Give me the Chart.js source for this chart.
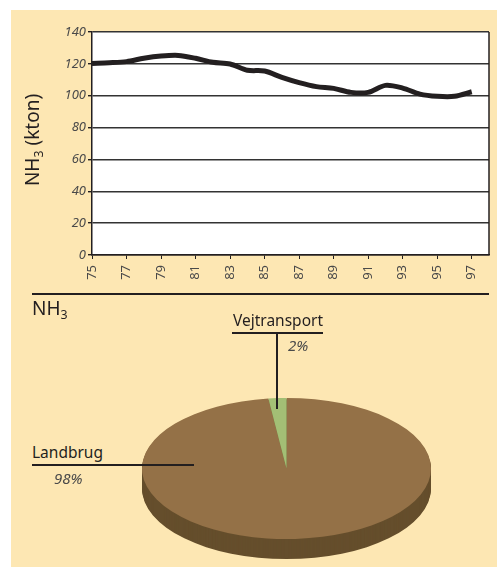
<!DOCTYPE html>
<html>
<head>
<meta charset="utf-8">
<script src="https://cdn.jsdelivr.net/npm/chart.js@4/dist/chart.umd.min.js"></script>
<style>
  body { margin: 0; background: #fff; width: 497px; height: 568px; overflow: hidden; position: relative; font-family: "Noto Sans", sans-serif; color: #231f20; }
  #panel { position: absolute; left: 11px; top: 10px; width: 486px; height: 557px; background: #fde7b3; }
  canvas { position: absolute; }
  .txt { position: absolute; white-space: nowrap; }
  .line { position: absolute; background: #231f20; }
  sub { font-size: 65%; vertical-align: -0.35em; }
</style>
</head>
<body>
<div id="panel"></div>
<canvas id="lineChart" width="497" height="300" style="left:0;top:0"></canvas>
<canvas id="pieChart" width="289" height="289" style="left:142px;top:324px"></canvas>

<!-- akse-titel og overskrift -->
<div class="txt" style="left:33px;top:140px;font-size:19px;transform:translate(-50%,-50%) rotate(-90deg)">NH<sub>3</sub> (kton)</div>
<div class="line" style="left:32px;top:293px;width:457px;height:1.5px"></div>
<div class="txt" style="left:32px;top:295px;font-size:19px">NH<sub>3</sub></div>

<!-- labels til lagkagen -->
<div class="txt" style="left:233px;top:309px;font-size:15.5px">Vejtransport</div>
<div class="line" style="left:232px;top:332px;width:91px;height:1.5px"></div>
<div class="line" style="left:276px;top:333px;width:1.5px;height:76px"></div>
<div class="txt" style="left:288px;top:335px;font-size:15px;font-style:italic;color:#4a4a4a">2%</div>
<div class="txt" style="left:32px;top:441px;font-size:15.5px">Landbrug</div>
<div class="line" style="left:32px;top:464px;width:162px;height:1.5px"></div>
<div class="txt" style="left:54px;top:468px;font-size:15px;font-style:italic;color:#4a4a4a">98%</div>

<script>
// NH3 udslip 1975-1997 (kton)
const years = [75, 76, 77, 78, 79, 80, 81, 82, 83, 84, 85, 86, 87, 88, 89, 90, 91, 92, 93, 94, 95, 96, 97];
const nh3 = [120.3, 120.7, 121.4, 123.5, 124.9, 125.3, 123.5, 121, 119.9, 116, 115.5, 111.5, 108.2, 105.7, 104.6, 102.1, 102.1, 106.5, 104.8, 101, 99.6, 99.6, 102.5];
const tickYears = [75, 77, 79, 81, 83, 85, 87, 89, 91, 93, 95, 97];

// fordeling på kilder (%)
const sources = ['Landbrug', 'Vejtransport'];
const shares = [98, 2];

const font = "'Noto Sans', sans-serif";
const dark = '#231f20';

//hvid plot-baggrund og ramme til højre
const plotBox = {
    id: 'plotBox',
    beforeDraw(chart) {
        const a = chart.chartArea;
        chart.ctx.fillStyle = '#fff';
        chart.ctx.fillRect(a.left, a.top, a.right - a.left, a.bottom - a.top);
    },
    afterDraw(chart) {
        const a = chart.chartArea, ctx = chart.ctx;
        ctx.save();
        ctx.strokeStyle = dark;
        ctx.lineWidth = 1.5;
        ctx.beginPath();
        ctx.moveTo(a.right, a.top);
        ctx.lineTo(a.right, a.bottom);
        ctx.stroke();
        ctx.restore();
    }
};

new Chart(document.getElementById('lineChart'), {
    type: 'line',
    data: {
        datasets: [{
            data: years.map((y, i) => ({ x: y, y: nh3[i] })),
            borderColor: dark,
            borderWidth: 5,
            tension: 0.3,
            pointRadius: 0,
            fill: false
        }]
    },
    options: {
        responsive: false,
        animation: false,
        layout: { padding: { top: 32, right: 8, bottom: 0, left: 0 } },
        plugins: { legend: { display: false }, tooltip: { enabled: false } },
        scales: {
            x: {
                type: 'linear',
                min: 75,
                max: 98,
                afterBuildTicks: s => { s.ticks = tickYears.map(v => ({ value: v })); },
                afterFit: s => { s.height = 45; },
                grid: { drawOnChartArea: false, drawTicks: true, tickLength: 4, color: dark },
                border: { color: dark, width: 1.5 },
                ticks: { minRotation: 90, maxRotation: 90, autoSkip: false, padding: 6, color: '#4a4a4a', font: { family: font, size: 13 } }
            },
            y: {
                min: 0,
                max: 140,
                afterFit: s => { s.width = 92; },
                grid: { color: '#333', lineWidth: 1.4, tickLength: 4, tickColor: dark },
                border: { color: dark, width: 1.5 },
                ticks: { stepSize: 20, padding: 2, color: '#4a4a4a', font: { family: font, size: 13, style: 'italic' } }
            }
        }
    },
    plugins: [plotBox]
});

//3D-effekt: klemmer lagkagen sammen og tegner en mørk kant under
const tilt = 0.488;
const depth = 20;
const sideColors = ['#654e2c', '#6f8a48'];
const pie3d = {
    id: 'pie3d',
    beforeDatasetsDraw(chart) {
        const ctx = chart.ctx;
        const arcs = chart.getDatasetMeta(0).data;
        const cx = arcs[0].x, cy = arcs[0].y;
        for (let d = depth; d >= 1; d--) {
            ctx.save();
            ctx.translate(cx, cy + d);
            ctx.scale(1, tilt);
            ctx.translate(-cx, -cy);
            arcs.forEach((arc, i) => {
                const p = arc.getProps(['x', 'y', 'startAngle', 'endAngle', 'outerRadius']);
                ctx.beginPath();
                ctx.moveTo(p.x, p.y);
                ctx.arc(p.x, p.y, p.outerRadius, p.startAngle, p.endAngle);
                ctx.closePath();
                ctx.fillStyle = sideColors[i];
                ctx.fill();
            });
            ctx.restore();
        }
        ctx.save();
        ctx.translate(cx, cy);
        ctx.scale(1, tilt);
        ctx.translate(-cx, -cy);
    },
    afterDatasetsDraw(chart) {
        chart.ctx.restore();
    }
};

new Chart(document.getElementById('pieChart'), {
    type: 'pie',
    data: {
        labels: sources,
        datasets: [{
            data: shares,
            backgroundColor: ['#947147', '#a3bf75'],
            borderWidth: 0
        }]
    },
    options: {
        responsive: false,
        animation: false,
        layout: { padding: 0 },
        plugins: { legend: { display: false }, tooltip: { enabled: false } }
    },
    plugins: [pie3d]
});
</script>
</body>
</html>
